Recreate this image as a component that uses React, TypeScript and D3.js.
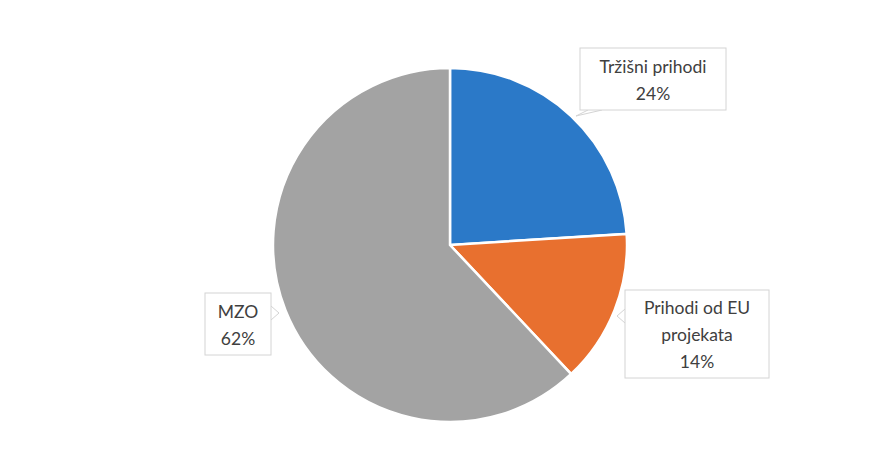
import { useRef, useEffect } from 'react'
import * as d3 from 'd3';

// slice data (shares of income)
const categories = ["Tržišni prihodi", "Prihodi od EU projekata", "MZO"];
const shares = [24, 14, 62];
const labelLines = [["Tržišni prihodi", "24%"], ["Prihodi od EU", "projekata", "14%"], ["MZO", "62%"]];
const colors = ["#2b79c8", "#e8702f", "#a3a3a3"];

function App() {
    const ref = useRef(null);

    const width = 879;
    const height = 470;

    useEffect(() => {
        const svg = d3.select(ref.current);
        svg.selectAll("*").remove();

        const cx = 450;
        const cy = 245;
        const radius = 177;

        const pie = d3.pie<number>().sort(null).value(d => d);
        const arc = d3.arc<d3.PieArcDatum<number>>().innerRadius(0).outerRadius(radius);
        const arcs = pie(shares);

        const g = svg.append("g").attr("transform", `translate(${cx},${cy})`);

        g.selectAll("path")
         .data(arcs)
         .join("path")
         .attr("d", arc)
         .attr("fill", (d, i) => colors[i])
         .attr("stroke", "#ffffff")
         .attr("stroke-width", 2.5);

        // label boxes: centre relative to pie centre, box size, tail side
        const boxes = [
            { dx: 203, dy: -166, w: 146, h: 62, tail: "bottom" },
            { dx: 247, dy: 89, w: 144, h: 88, tail: "left" },
            { dx: -212, dy: 79, w: 66, h: 62, tail: "right" }
        ];
        const lineH = 27;

        const labels = g.selectAll("g.label")
                        .data(arcs)
                        .join("g")
                        .attr("class", "label")
                        .attr("transform", (d, i) => `translate(${boxes[i].dx},${boxes[i].dy})`);

        // little callout tail toward the slice
        labels.append("path")
              .attr("d", (d, i) => {
                  const b = boxes[i];
                  if (b.tail === "bottom") {
                      const x0 = -b.w / 2 + 8, y0 = b.h / 2;
                      return `M${x0},${y0}L${x0 - 12},${y0 + 6}L${x0 + 14},${y0}`;
                  }
                  if (b.tail === "left") {
                      const x0 = -b.w / 2, y0 = -b.h / 2 + 26;
                      return `M${x0},${y0 - 7}L${x0 - 8},${y0}L${x0},${y0 + 7}`;
                  }
                  const x0 = b.w / 2, y0 = -b.h / 2 + 20;
                  return `M${x0},${y0 - 7}L${x0 + 8},${y0}L${x0},${y0 + 7}`;
              })
              .attr("fill", "#ffffff")
              .attr("stroke", "#d4d4d4")
              .attr("stroke-width", 1);

        labels.append("rect")
              .attr("x", (d, i) => -boxes[i].w / 2)
              .attr("y", (d, i) => -boxes[i].h / 2)
              .attr("width", (d, i) => boxes[i].w)
              .attr("height", (d, i) => boxes[i].h)
              .attr("fill", "#ffffff")
              .attr("stroke", "#d4d4d4")
              .attr("stroke-width", 1);

        labels.each(function (d, i) {
            const lines = labelLines[i];
            const t = d3.select(this).append("text")
                        .attr("text-anchor", "middle")
                        .attr("font-family", "Lato, 'Open Sans', sans-serif")
                        .attr("font-size", 17.5)
                        .attr("fill", "#404040");
            lines.forEach((ln, k) => {
                t.append("tspan")
                 .attr("x", 0)
                 .attr("y", (k - (lines.length - 1) / 2) * lineH + 7)
                 .text(ln);
            });
        });

        svg.append("title").text(categories.join(", "));
    });

    return (
        <svg width={width} height={height} ref={ref}
             style={{ position: "absolute", left: 0, top: 0, background: "#ffffff" }} />
    )
}

export default App;
